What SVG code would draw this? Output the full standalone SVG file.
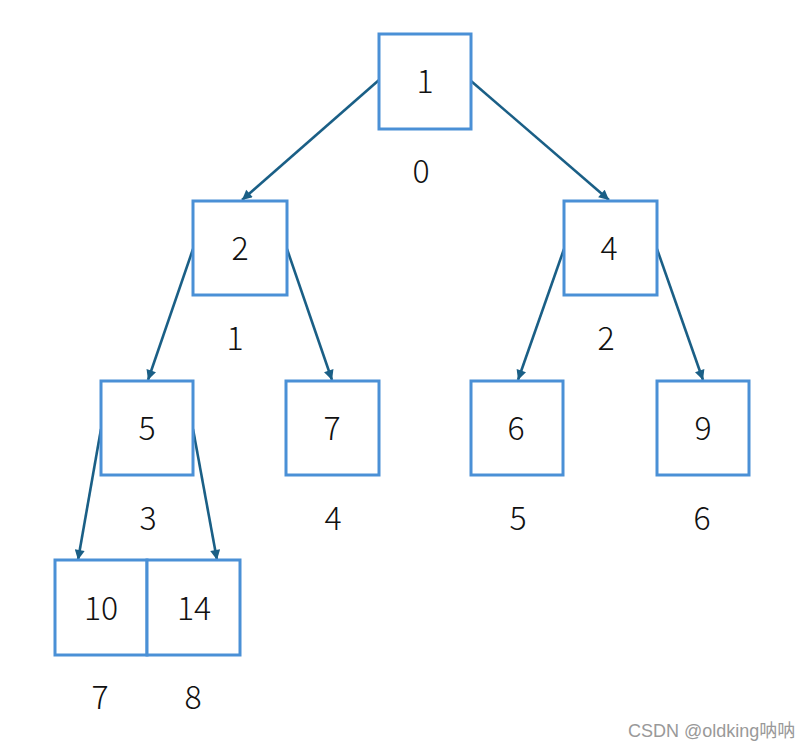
<svg xmlns="http://www.w3.org/2000/svg" width="811" height="750" viewBox="0 0 811 750">
<style>
.box{fill:#fff;stroke:#4a90d6;stroke-width:3}
.t{font-family:"Noto Sans CJK SC","Noto Sans",sans-serif;font-size:32px;font-weight:300;fill:#111;text-anchor:middle;dominant-baseline:central}
.e{stroke:#1a5f86;stroke-width:2.6;fill:none;marker-end:url(#ah)}
.wm{font-family:"Liberation Sans","Noto Sans CJK SC",sans-serif;font-size:18px;fill:#999}
</style>
<defs>
<marker id="ah" viewBox="0 0 10 10" refX="10" refY="5" markerWidth="12" markerHeight="10" markerUnits="userSpaceOnUse" orient="auto">
<path d="M0,0 L10,5 L0,10 z" fill="#1a5f86"/>
</marker>
</defs>
<rect width="811" height="750" fill="#fff"/>
<g id="connectors">
<line class="e" x1="379" y1="80" x2="242" y2="200"/>
<line class="e" x1="471" y1="81" x2="609" y2="200"/>
<line class="e" x1="193" y1="249" x2="148" y2="380"/>
<line class="e" x1="287" y1="249" x2="332" y2="380"/>
<line class="e" x1="564" y1="249" x2="518" y2="380"/>
<line class="e" x1="657" y1="249" x2="703" y2="380"/>
<line class="e" x1="101" y1="429" x2="78" y2="560"/>
<line class="e" x1="193" y1="429" x2="217" y2="560"/>
</g>
<g id="n0"><rect class="box" x="379" y="34" width="92" height="95"/><text class="t" x="425" y="79">1</text><text class="t" x="421" y="169">0</text></g>
<g id="n1"><rect class="box" x="193" y="201" width="94" height="94"/><text class="t" x="240" y="246">2</text><text class="t" x="235" y="336">1</text></g>
<g id="n2"><rect class="box" x="564" y="201" width="93" height="94"/><text class="t" x="609" y="246">4</text><text class="t" x="606" y="336">2</text></g>
<g id="n3"><rect class="box" x="101" y="381" width="92" height="94"/><text class="t" x="147" y="426">5</text><text class="t" x="148" y="516">3</text></g>
<g id="n4"><rect class="box" x="286" y="381" width="93" height="94"/><text class="t" x="332" y="426">7</text><text class="t" x="333" y="516">4</text></g>
<g id="n5"><rect class="box" x="471" y="381" width="92" height="94"/><text class="t" x="516" y="426">6</text><text class="t" x="518" y="516">5</text></g>
<g id="n6"><rect class="box" x="657" y="381" width="92" height="94"/><text class="t" x="703" y="426">9</text><text class="t" x="702" y="516">6</text></g>
<g id="n7"><rect class="box" x="55" y="560" width="92" height="95"/><text class="t" x="101" y="606">10</text><text class="t" x="100" y="695">7</text></g>
<g id="n8"><rect class="box" x="147" y="560" width="93" height="95"/><text class="t" x="194" y="606">14</text><text class="t" x="193" y="695">8</text></g>
<text class="wm" x="628" y="737">CSDN @oldking呐呐</text>
</svg>
